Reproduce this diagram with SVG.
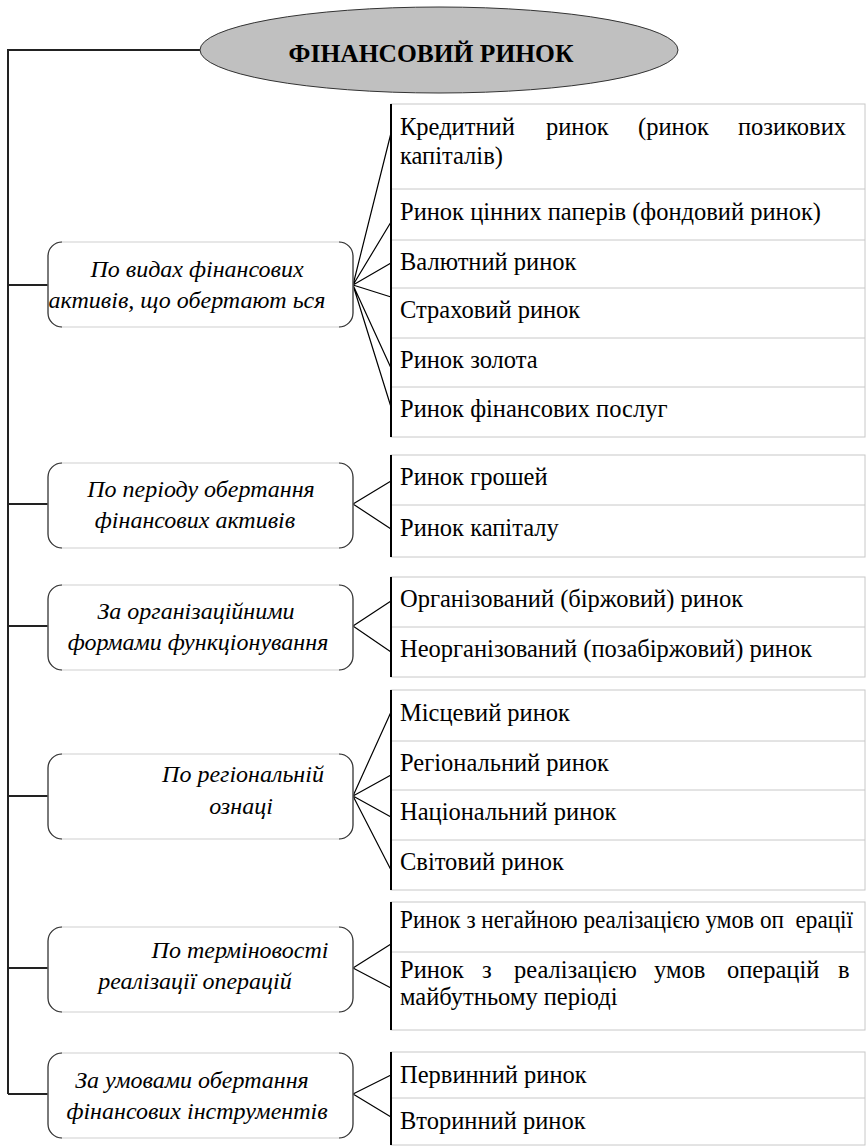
<svg xmlns="http://www.w3.org/2000/svg" width="867" height="1147" viewBox="0 0 867 1147">
<style>
.bg{fill:#fff}
.main{stroke:#222;stroke-width:2;fill:none}
.fan{stroke:#000;stroke-width:1.2;fill:none}
.panel{fill:#fff;stroke:#c8c8c8;stroke-width:1}
.sep{stroke:#c8c8c8;stroke-width:1}
.pl{stroke:#000;stroke-width:2}
.box{fill:#fff;stroke:#cfcfcf;stroke-width:1}
.br{fill:none;stroke:#333;stroke-width:1.2}
.t{font-family:"Liberation Serif",serif;font-size:24.5px;fill:#000}
.c{font-family:"Liberation Serif",serif;font-size:24px;font-style:italic;fill:#000;text-anchor:middle}
.h{font-family:"Liberation Serif",serif;font-size:25.5px;font-weight:bold;fill:#000;text-anchor:middle}
</style>
<defs>
<path id="bracket" class="br" d="M62,0 A14,14 0 0 0 48,14 L48,71 A14,14 0 0 0 62,85 M339,0 A14,14 0 0 1 353,14 L353,71 A14,14 0 0 1 339,85"/>
</defs>
<rect class="bg" x="0" y="0" width="867" height="1147"/>

<g id="connectors">
<path class="main" d="M200,50 H8 V1094"/>
<path class="main" d="M8,285 H48 M8,504 H48 M8,626 H48 M8,796 H48 M8,968 H48 M8,1094 H48"/>
<path class="fan" d="M353,285 L391,133 M353,285 L391,222 M353,285 L391,263 M353,285 L391,297 M353,285 L391,368 M353,285 L391,407"/>
<path class="fan" d="M353,504 L391,481 M353,504 L391,529"/>
<path class="fan" d="M353,626 L391,601 M353,626 L391,652"/>
<path class="fan" d="M353,796 L391,712 M353,796 L391,775 M353,796 L391,817 M353,796 L391,870"/>
<path class="fan" d="M353,968 L391,944 M353,968 L391,988"/>
<path class="fan" d="M353,1094 L391,1075 M353,1094 L391,1117"/>
</g>

<g id="root">
<ellipse cx="439" cy="50" rx="239" ry="43" fill="#c0c0c0" stroke="#333" stroke-width="1"/>
<text class="h" x="431" y="62">ФІНАНСОВИЙ РИНОК</text>
</g>

<g id="cat1">
<rect class="box" x="48" y="242" width="305" height="85" rx="14"/>
<use href="#bracket" transform="translate(0,242)"/>
<text class="c" x="197" y="277">По видах фінансових</text>
<text class="c" x="187" y="308">активів, що обертают ься</text>
</g>
<g id="cat2">
<rect class="box" x="48" y="463" width="305" height="85" rx="14"/>
<use href="#bracket" transform="translate(0,463)"/>
<text class="c" x="201" y="497">По періоду обертання</text>
<text class="c" x="195" y="528">фінансових активів</text>
</g>
<g id="cat3">
<rect class="box" x="48" y="585" width="305" height="85" rx="14"/>
<use href="#bracket" transform="translate(0,585)"/>
<text class="c" x="196" y="619">За організаційними</text>
<text class="c" x="198" y="650">формами функціонування</text>
</g>
<g id="cat4">
<rect class="box" x="48" y="754" width="305" height="85" rx="14"/>
<use href="#bracket" transform="translate(0,754)"/>
<text class="c" x="243" y="782">По регіональній</text>
<text class="c" x="241" y="814">ознаці</text>
</g>
<g id="cat5">
<rect class="box" x="48" y="927" width="305" height="85" rx="14"/>
<use href="#bracket" transform="translate(0,927)"/>
<text class="c" x="240" y="958">По терміновості</text>
<text class="c" x="195" y="989">реалізації операцій</text>
</g>
<g id="cat6">
<rect class="box" x="48" y="1053" width="305" height="85" rx="14"/>
<use href="#bracket" transform="translate(0,1053)"/>
<text class="c" x="192" y="1088">За умовами обертання</text>
<text class="c" x="197" y="1119">фінансових інструментів</text>
</g>

<g id="panel1">
<rect class="panel" x="391" y="104" width="474" height="333"/>
<path class="sep" d="M391,189 H865 M391,240 H865 M391,288 H865 M391,338 H865 M391,387 H865"/>
<line class="pl" x1="391" y1="104" x2="391" y2="437"/>
<text class="t" y="135"><tspan x="400">Кредитний</tspan><tspan x="546">ринок</tspan><tspan x="638">(ринок</tspan><tspan x="738">позикових</tspan></text>
<text class="t" x="400" y="164">капіталів)</text>
<text class="t" x="400" y="220">Ринок цінних паперів (фондовий ринок)</text>
<text class="t" x="400" y="270">Валютний ринок</text>
<text class="t" x="400" y="318">Страховий ринок</text>
<text class="t" x="400" y="368">Ринок золота</text>
<text class="t" x="400" y="417">Ринок фінансових послуг</text>
</g>
<g id="panel2">
<rect class="panel" x="391" y="455" width="474" height="102"/>
<path class="sep" d="M391,505 H865"/>
<line class="pl" x1="391" y1="455" x2="391" y2="557"/>
<text class="t" x="400" y="485">Ринок грошей</text>
<text class="t" x="400" y="536">Ринок капіталу</text>
</g>
<g id="panel3">
<rect class="panel" x="391" y="577" width="474" height="100"/>
<path class="sep" d="M391,627 H865"/>
<line class="pl" x1="391" y1="577" x2="391" y2="677"/>
<text class="t" x="400" y="607">Організований (біржовий) ринок</text>
<text class="t" x="400" y="657">Неорганізований (позабіржовий) ринок</text>
</g>
<g id="panel4">
<rect class="panel" x="391" y="690" width="474" height="200"/>
<path class="sep" d="M391,741 H865 M391,790 H865 M391,840 H865"/>
<line class="pl" x1="391" y1="690" x2="391" y2="890"/>
<text class="t" x="400" y="721">Місцевий ринок</text>
<text class="t" x="400" y="771">Регіональний ринок</text>
<text class="t" x="400" y="820">Національний ринок</text>
<text class="t" x="400" y="870">Світовий ринок</text>
</g>
<g id="panel5">
<rect class="panel" x="391" y="902" width="474" height="128"/>
<path class="sep" d="M391,952 H865"/>
<line class="pl" x1="391" y1="902" x2="391" y2="1030"/>
<text class="t" x="400" y="928" textLength="453" lengthAdjust="spacingAndGlyphs" style="white-space:pre">Ринок з негайною реалізацією умов оп  ерації</text>
<text class="t" y="978"><tspan x="400">Ринок</tspan><tspan x="482">з</tspan><tspan x="514">реалізацією</tspan><tspan x="654">умов</tspan><tspan x="727">операцій</tspan><tspan x="838">в</tspan></text>
<text class="t" x="400" y="1005">майбутньому періоді</text>
</g>
<g id="panel6">
<rect class="panel" x="391" y="1052" width="474" height="93"/>
<path class="sep" d="M391,1098 H865"/>
<line class="pl" x1="391" y1="1052" x2="391" y2="1145"/>
<text class="t" x="400" y="1083">Первинний ринок</text>
<text class="t" x="400" y="1129">Вторинний ринок</text>
</g>
</svg>
